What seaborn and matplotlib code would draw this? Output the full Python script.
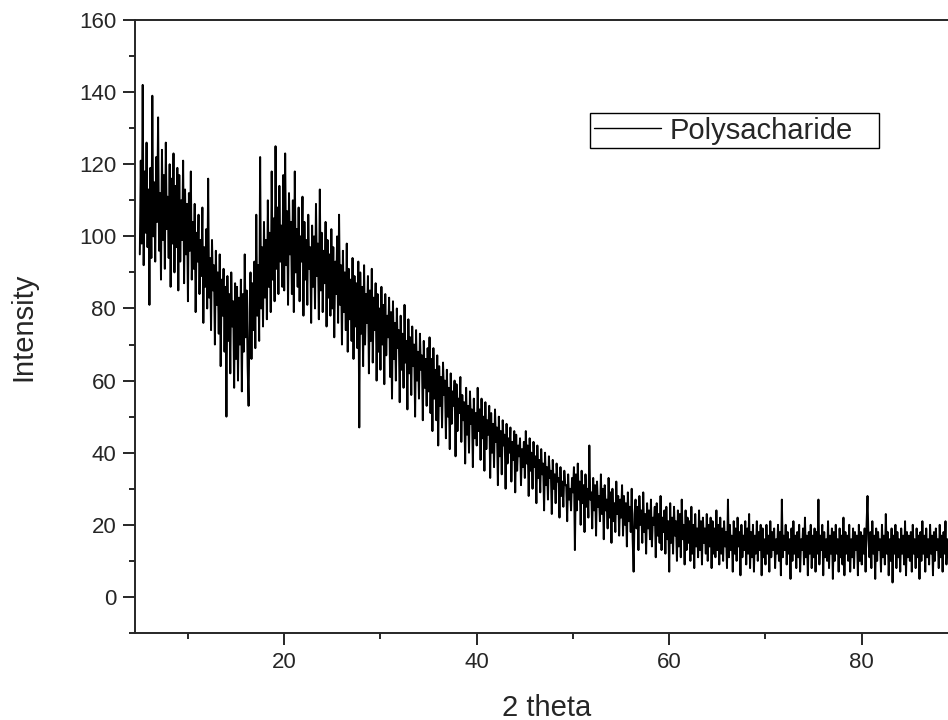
import numpy as np
import seaborn as sns
import matplotlib.pyplot as plt
from matplotlib.ticker import MultipleLocator

sns.set_style("ticks")
plt.rcParams["font.family"] = ["Liberation Sans", "DejaVu Sans"]

# XRD pattern, one value every 0.1 deg (5 deg per block of 5 rows)
intensity = [
    95, 121, 98, 142, 92, 118, 101, 126, 97, 113,
    81, 119, 94, 139, 100, 115, 93, 122, 104, 133,
    96, 112, 88, 124, 99, 117, 91, 126, 102, 111,
    94, 120, 86, 116, 98, 123, 90, 114, 97, 119,
    85, 117, 93, 110, 99, 121, 87, 113, 95, 109,
    # 10 - 15
    82, 112, 96, 118, 88, 104, 91, 109, 79, 101,
    93, 106, 84, 99, 89, 108, 76, 97, 86, 102,
    80, 116, 83, 94, 74, 99, 85, 92, 70, 96,
    81, 90, 73, 95, 64, 88, 78, 91, 68, 86,
    50, 89, 71, 84, 62, 90, 75, 82, 58, 87,
    # 15 - 20
    66, 86, 60, 83, 70, 88, 57, 84, 68, 95,
    72, 85, 64, 53, 79, 90, 66, 87, 74, 93,
    69, 106, 78, 92, 71, 122, 80, 97, 75, 104,
    83, 99, 77, 110, 86, 101, 79, 118, 88, 105,
    82, 125, 91, 108, 84, 114, 93, 103, 86, 117,
    # 20 - 25
    85, 123, 92, 107, 81, 112, 95, 104, 84, 110,
    79, 118, 90, 102, 86, 108, 82, 100, 93, 111,
    78, 104, 88, 99, 81, 106, 91, 97, 76, 103,
    86, 100, 80, 109, 89, 98, 77, 113, 85, 101,
    79, 96, 87, 104, 75, 99, 83, 95, 78, 102,
    # 25 - 30
    80, 97, 72, 93, 84, 100, 76, 106, 81, 92,
    70, 96, 79, 90, 74, 98, 68, 91, 77, 88,
    71, 94, 66, 89, 75, 87, 69, 93, 47, 90,
    73, 86, 64, 92, 70, 84, 76, 89, 62, 85,
    71, 91, 65, 83, 74, 87, 60, 84, 68, 80,
    # 30 - 35
    63, 86, 70, 81, 59, 84, 67, 78, 72, 83,
    61, 79, 55, 82, 66, 76, 60, 80, 69, 74,
    54, 78, 63, 73, 58, 81, 65, 71, 52, 77,
    62, 72, 56, 75, 64, 70, 50, 74, 60, 68,
    55, 73, 63, 67, 49, 71, 58, 66, 53, 69,
    # 35 - 40
    57, 72, 51, 66, 46, 69, 55, 63, 49, 67,
    42, 64, 53, 61, 47, 65, 56, 60, 44, 63,
    50, 58, 41, 62, 48, 57, 53, 60, 39, 59,
    46, 55, 51, 61, 43, 56, 49, 54, 37, 58,
    45, 53, 40, 57, 48, 52, 36, 55, 44, 51,
    # 40 - 45
    42, 58, 46, 52, 38, 55, 44, 50, 35, 54,
    41, 49, 45, 53, 33, 51, 40, 48, 36, 52,
    43, 47, 31, 50, 39, 46, 34, 49, 42, 45,
    30, 48, 37, 44, 40, 47, 32, 43, 38, 46,
    29, 45, 35, 42, 39, 44, 31, 41, 36, 43,
    # 45 - 50
    33, 46, 37, 42, 28, 44, 35, 40, 30, 43,
    36, 39, 26, 42, 33, 38, 29, 41, 34, 37,
    24, 40, 31, 36, 27, 39, 33, 35, 23, 38,
    30, 34, 26, 37, 32, 33, 22, 36, 28, 32,
    25, 35, 31, 31, 21, 34, 27, 30, 24, 33,
    # 50 - 55
    29, 36, 13, 34, 24, 37, 27, 32, 20, 35,
    26, 31, 18, 34, 25, 30, 22, 42, 27, 29,
    19, 33, 24, 31, 17, 32, 25, 28, 21, 34,
    23, 30, 16, 31, 24, 27, 19, 33, 22, 29,
    15, 30, 21, 26, 18, 32, 23, 28, 17, 27,
    # 55 - 60
    22, 31, 17, 28, 20, 26, 14, 29, 21, 25,
    18, 30, 16, 7, 23, 27, 19, 25, 13, 28,
    20, 24, 15, 29, 18, 23, 12, 26, 19, 24,
    16, 27, 14, 22, 20, 25, 11, 26, 17, 23,
    15, 28, 13, 22, 18, 24, 12, 25, 16, 21,
    # 60 - 65
    7, 26, 15, 22, 12, 25, 17, 21, 10, 24,
    14, 23, 11, 27, 16, 20, 9, 24, 13, 22,
    15, 21, 10, 25, 12, 20, 8, 23, 14, 19,
    11, 24, 13, 21, 9, 22, 15, 19, 12, 23,
    10, 20, 14, 22, 8, 21, 12, 19, 11, 24,
    # 65 - 70
    13, 20, 9, 22, 12, 19, 10, 21, 14, 18,
    8, 27, 11, 20, 13, 17, 7, 21, 12, 19,
    10, 22, 14, 18, 6, 20, 11, 17, 13, 21,
    9, 19, 12, 23, 8, 18, 11, 20, 7, 17,
    12, 21, 10, 18, 13, 20, 6, 19, 11, 16,
    # 70 - 75
    9, 20, 12, 17, 7, 21, 11, 18, 13, 19,
    8, 16, 12, 20, 10, 18, 6, 27, 11, 17,
    13, 20, 9, 18, 12, 16, 5, 19, 10, 21,
    12, 17, 8, 18, 11, 20, 7, 16, 13, 19,
    9, 22, 11, 17, 6, 18, 12, 20, 8, 17,
    # 75 - 80
    11, 19, 7, 18, 12, 27, 9, 17, 13, 20,
    6, 18, 11, 16, 10, 21, 8, 17, 12, 19,
    5, 18, 10, 20, 12, 16, 7, 19, 11, 17,
    9, 22, 6, 18, 12, 17, 10, 20, 7, 16,
    11, 19, 8, 18, 13, 17, 6, 20, 10, 18,
    # 80 - 85
    9, 17, 12, 19, 7, 20, 28, 16, 11, 18,
    8, 21, 12, 17, 5, 19, 10, 18, 13, 16,
    7, 20, 11, 17, 9, 23, 12, 18, 6, 16,
    10, 19, 4, 17, 12, 20, 8, 18, 11, 16,
    7, 19, 12, 17, 9, 21, 6, 18, 11, 17,
    # 85 - 90
    10, 18, 7, 20, 12, 16, 8, 19, 11, 17,
    5, 18, 10, 21, 12, 17, 7, 19, 11, 16,
    9, 20, 12, 17, 6, 18, 10, 19, 13, 16,
    8, 20, 11, 17, 7, 18, 12, 21, 9, 16,
    11, 19, 6, 17, 10, 18, 12, 16, 8, 19,
    13,
]
two_theta = np.linspace(5, 90, len(intensity))

fig = plt.figure(figsize=(9.48, 7.2), dpi=100)
# axes runs a little past the right edge of the picture, like the original
ax = fig.add_axes([135 / 948, 1 - 633 / 720, 823 / 948, 613 / 720])

sns.lineplot(x=two_theta, y=intensity, ax=ax, color="black", lw=1.4,
             label="Polysacharide")

ax.set_xlim(4.5, 90)
ax.set_ylim(-10, 160)
ax.xaxis.set_major_locator(MultipleLocator(20))
ax.xaxis.set_minor_locator(MultipleLocator(10))
ax.yaxis.set_major_locator(MultipleLocator(20))
ax.yaxis.set_minor_locator(MultipleLocator(10))
ax.set_yticks(np.arange(0, 161, 20))
ax.tick_params(which="major", length=8.5, width=1.4, labelsize=16, pad=5, direction="out")
ax.tick_params(which="minor", length=4.5, width=1.4, direction="out")
for s in ax.spines.values():
    s.set_linewidth(1.4)

ax.set_xlabel("2 theta", fontsize=21, labelpad=15)
ax.set_ylabel("Intensity", fontsize=21, labelpad=30)

# box stretched to the width of the original legend
leg = ax.legend(loc="upper left", bbox_to_anchor=(0.553, 0.788, 0.351, 0.06),
                mode="expand", borderaxespad=0,
                fontsize=21, fancybox=False, edgecolor="black", framealpha=1,
                handlelength=2.3, handletextpad=0.3, borderpad=0.12)
leg.get_frame().set_linewidth(1.0)
for line in leg.get_lines():
    line.set_linewidth(1.0)

fig.savefig("out.png", dpi=100)
